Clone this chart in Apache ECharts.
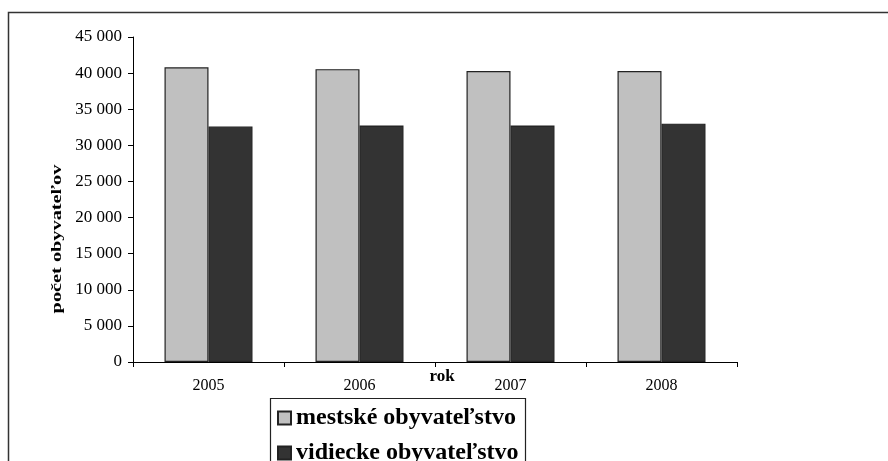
<!DOCTYPE html>
<html><head><meta charset="utf-8">
<script src="https://cdn.jsdelivr.net/npm/echarts@6/dist/echarts.min.js"></script>
<style>html,body{margin:0;padding:0;background:#fff}#c{width:888px;height:461px}</style>
</head><body><div id="c"></div>
<script>
const categories = ['2005', '2006', '2007', '2008'];
const mestske = [40800, 40550, 40300, 40300];
const vidiecke = [32600, 32750, 32750, 33000];
const seriesNames = ['mestské obyvateľstvo', 'vidiecke obyvateľstvo'];
const yTicks = [0, 5000, 10000, 15000, 20000, 25000, 30000, 35000, 40000, 45000];

const font = '"Liberation Serif", "Times New Roman", serif';
const legendText = { fontFamily: font, fontWeight: 'bold', fontSize: 24, color: '#000' };
const chart = echarts.init(document.getElementById('c'));
chart.setOption({
  animation: false,
  backgroundColor: '#fff',
  textStyle: { fontFamily: font },
  graphic: [
    { type: 'rect', shape: { x: 8.5, y: 12.5, width: 900, height: 500 }, style: { fill: 'none', stroke: '#333', lineWidth: 1.5 }, z: 0 },
    { type: 'rect', shape: { x: 270.5, y: 398.5, width: 255, height: 100 }, style: { fill: '#fff', stroke: '#222', lineWidth: 1.2 }, z: 0 },
    { type: 'text', x: 57, y: 239, rotation: Math.PI / 2, scaleX: 1.45, style: { text: 'počet obyvateľov', font: 'bold 14px ' + font, fill: '#000', align: 'center', verticalAlign: 'middle' } },
    { type: 'text', x: 442, y: 377, style: { text: 'rok', font: 'bold 17px ' + font, fill: '#000', align: 'center', verticalAlign: 'middle' } }
  ],
  grid: { left: 133, right: 151, top: 37, bottom: 99 },
  legend: [
    { left: 277, top: 406, data: [seriesNames[0]], icon: 'rect', itemWidth: 13, itemHeight: 13, itemGap: 8, padding: 0, textStyle: legendText },
    { left: 277, top: 441, data: [seriesNames[1]], icon: 'rect', itemWidth: 13, itemHeight: 13, itemGap: 8, padding: 0, textStyle: legendText }
  ],
  xAxis: {
    type: 'category', data: categories,
    axisLine: { lineStyle: { color: '#000', width: 1 } },
    axisTick: { show: true, length: 5, lineStyle: { color: '#000' } },
    axisLabel: { fontFamily: font, fontSize: 16, color: '#000', margin: 16 }
  },
  yAxis: {
    type: 'value', min: 0, max: 45000, interval: 5000,
    axisLine: { show: true, lineStyle: { color: '#000', width: 1 } },
    axisTick: { show: true, length: 5, lineStyle: { color: '#000' } },
    splitLine: { show: false },
    axisLabel: {
      fontFamily: font, fontSize: 17, color: '#000', margin: 11,
      formatter: v => yTicks.includes(v) ? String(v).replace(/\B(?=(\d{3})+(?!\d))/g, ' ') : ''
    }
  },
  series: [
    { name: seriesNames[0], type: 'bar', data: mestske, barWidth: 44, barGap: '0%',
      itemStyle: { color: '#c0c0c0', borderColor: '#222', borderWidth: 1.2 } },
    { name: seriesNames[1], type: 'bar', data: vidiecke, barWidth: 44,
      itemStyle: { color: '#333333', borderColor: '#222', borderWidth: 1.2 } }
  ]
});
</script></body></html>
